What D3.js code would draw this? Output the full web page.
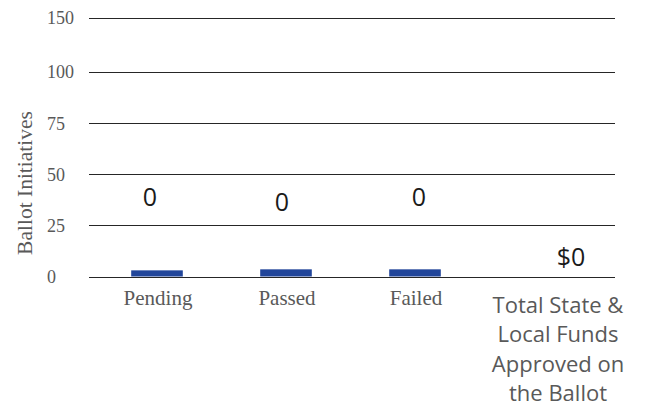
<!DOCTYPE html>
<html>
<head>
<meta charset="utf-8">
<script src="https://cdn.jsdelivr.net/npm/d3@7"></script>
<style>
  body { margin: 0; background: #fff; }
  svg { display: block; }
</style>
</head>
<body>
<div id="container"></div>
<script>
// données du graphique
const categories = ['Pending', 'Passed', 'Failed', 'Total State & Local Funds Approved on the Ballot']
const barValues = [3, 3.5, 3.5, 0]          // barres (valeurs 0, dessinées très basses)
const valueLabels = ['0', '0', '0', '$0']
const labelLevels = [38.5, 36, 38.5, 9.5]   // hauteur des étiquettes (unités de l'axe)
const tickValues = [0, 25, 50, 75, 100, 150]

const width = 653, height = 411
const serif = '"Liberation Serif", "Times New Roman", serif'
const sans = '"Open Sans", "Noto Sans", sans-serif'

const svg = d3.select('#container').append('svg')
  .attr('width', width)
  .attr('height', height)

// échelle Y : les graduations sont régulièrement espacées
const y = d3.scaleLinear()
  .domain([0, 100, 150])
  .range([276.5, 71.5, 17.5])

const x = d3.scaleBand()
  .domain(categories)
  .range([92.5, 608.5])
  .paddingInner(0.6)
  .paddingOuter(0.3)

// lignes de grille
svg.append('g')
  .selectAll('line')
  .data(tickValues)
  .join('line')
  .attr('x1', 89)
  .attr('x2', 615)
  .attr('y1', d => Math.round(y(d)) + 0.5)
  .attr('y2', d => Math.round(y(d)) + 0.5)
  .attr('stroke', '#262626')
  .attr('stroke-width', 1.2)

// axe Y
const yAxis = d3.axisLeft(y)
  .tickValues(tickValues)
  .tickSize(0)
  .tickPadding(0)
svg.append('g')
  .attr('transform', 'translate(47,0)')
  .call(yAxis)
  .call(g => g.select('.domain').remove())
  .call(g => g.selectAll('text')
    .attr('text-anchor', 'start')
    .attr('dy', '0.35em')
    .attr('fill', '#595959')
    .attr('font-family', serif)
    .attr('font-size', '18px'))

svg.append('text')
  .attr('transform', 'translate(32,183) rotate(-90)')
  .attr('text-anchor', 'middle')
  .attr('fill', '#595959')
  .attr('font-family', serif)
  .attr('font-size', '21.5px')
  .text('Ballot Initiatives')

// barres
svg.append('g')
  .selectAll('rect')
  .data(categories)
  .join('rect')
  .attr('x', d => x(d))
  .attr('width', x.bandwidth())
  .attr('y', (d, i) => y(barValues[i]))
  .attr('height', (d, i) => y(0) - y(barValues[i]))
  .attr('fill', '#21459a')

// étiquettes de valeurs
svg.append('g')
  .selectAll('text')
  .data(categories)
  .join('text')
  .attr('x', (d, i) => x(d) + x.bandwidth() / 2 + [-7, -4, 4, 27][i])
  .attr('y', (d, i) => y(labelLevels[i]))
  .attr('dy', '0.35em')
  .attr('text-anchor', 'middle')
  .attr('fill', '#1a1a1a')
  .attr('font-family', sans)
  .attr('font-size', '25px')
  .text((d, i) => valueLabels[i])

// étiquettes des catégories
const catG = svg.append('g')
categories.slice(0, 3).forEach(c => {
  catG.append('text')
    .attr('x', x(c) + x.bandwidth() / 2 + 1)
    .attr('y', 305)
    .attr('text-anchor', 'middle')
    .attr('fill', '#595959')
    .attr('font-family', serif)
    .attr('font-size', '21px')
    .text(c)
})
const lines = ['Total State &', 'Local Funds', 'Approved on', 'the Ballot']
const last = categories[3]
lines.forEach((l, i) => {
  catG.append('text')
    .attr('x', x(last) + x.bandwidth() / 2 + 14)
    .attr('y', 313 + i * 29.3)
    .attr('text-anchor', 'middle')
    .attr('fill', '#595959')
    .attr('font-family', sans)
    .attr('font-size', '22px')
    .text(l)
})
</script>
</body>
</html>
